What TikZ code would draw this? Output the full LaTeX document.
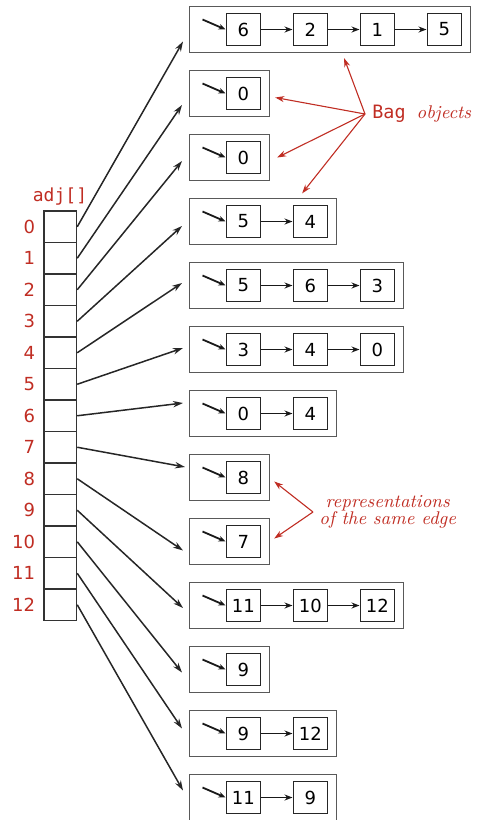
\documentclass[tikz,border=0pt]{standalone}
\usepackage{fontspec}
\setsansfont{DejaVu Sans}
\setmonofont{DejaVu Sans Mono}
\usetikzlibrary{arrows.meta}
\definecolor{bookred}{RGB}{192,45,35}

\begin{document}
\begin{tikzpicture}[x=0.5pt,y=-0.5pt,
  bag/.style={draw=black!65,line width=0.6pt,minimum height=23pt,inner sep=0pt,anchor=west},
  item/.style={draw=black!85,line width=0.6pt,minimum width=17.3pt,minimum height=16pt,inner sep=0pt,font=\sffamily\fontsize{9}{10}\selectfont},
  slot/.style={draw=black!80,line width=0.6pt,minimum width=16.3pt,minimum height=15.75pt,inner sep=0pt},
  idx/.style={text=bookred,inner sep=0pt,label distance=4pt,font=\sffamily\fontsize{9}{10}\selectfont},
  link/.style={-{Stealth[length=4pt,width=3pt]},line width=0.8pt,black!90},
  head/.style={-{Stealth[length=3.5pt,width=2.8pt]},line width=0.9pt,black!90},
  ref/.style={-{Stealth[length=5pt,width=3.2pt]},line width=0.75pt,black!85},
  note/.style={-{Stealth[length=4.5pt,width=3pt]},line width=0.55pt,bookred}]
\useasboundingbox (0,0) rectangle (477,820);
% draw adj array
\node[text=bookred,font=\ttfamily\fontsize{9}{10}\selectfont] (adj) at (60,197) {adj[]};
\node[slot,label={[idx]left:0}] (a0) at (60.35,226.75) {};
\node[slot,label={[idx]left:1}] (a1) at (60.35,258.25) {};
\node[slot,label={[idx]left:2}] (a2) at (60.35,289.75) {};
\node[slot,label={[idx]left:3}] (a3) at (60.35,321.25) {};
\node[slot,label={[idx]left:4}] (a4) at (60.35,352.75) {};
\node[slot,label={[idx]left:5}] (a5) at (60.35,384.25) {};
\node[slot,label={[idx]left:6}] (a6) at (60.35,415.75) {};
\node[slot,label={[idx]left:7}] (a7) at (60.35,447.25) {};
\node[slot,label={[idx]left:8}] (a8) at (60.35,478.75) {};
\node[slot,label={[idx]left:9}] (a9) at (60.35,510.25) {};
\node[slot,label={[idx]left:10}] (a10) at (60.35,541.75) {};
\node[slot,label={[idx]left:11}] (a11) at (60.35,573.25) {};
\node[slot,label={[idx]left:12}] (a12) at (60.35,604.75) {};
% draw bags
\node[bag,minimum width=140.5pt] (b0) at (189,29.5) {};
\node[item] (n0a) at (243.4,29.5) {6};
\node[item] (n0b) at (310.4,29.5) {2};
\node[item] (n0c) at (377.4,29.5) {1};
\node[item] (n0d) at (444.4,29.5) {5};
\draw[head] ([shift={(-23,-10)}]n0a.west) -- (n0a.west);
\draw[link] (n0a) -- (n0b);
\draw[link] (n0b) -- (n0c);
\draw[link] (n0c) -- (n0d);
%
\node[bag,minimum width=40pt] (b1) at (189,93.5) {};
\node[item] (n1a) at (243.4,93.5) {0};
\draw[head] ([shift={(-23,-10)}]n1a.west) -- (n1a.west);
%
\node[bag,minimum width=40pt] (b2) at (189,157.5) {};
\node[item] (n2a) at (243.4,157.5) {0};
\draw[head] ([shift={(-23,-10)}]n2a.west) -- (n2a.west);
%
\node[bag,minimum width=73.5pt] (b3) at (189,221.5) {};
\node[item] (n3a) at (243.4,221.5) {5};
\node[item] (n3b) at (310.4,221.5) {4};
\draw[head] ([shift={(-23,-10)}]n3a.west) -- (n3a.west);
\draw[link] (n3a) -- (n3b);
%
\node[bag,minimum width=107pt] (b4) at (189,285.5) {};
\node[item] (n4a) at (243.4,285.5) {5};
\node[item] (n4b) at (310.4,285.5) {6};
\node[item] (n4c) at (377.4,285.5) {3};
\draw[head] ([shift={(-23,-10)}]n4a.west) -- (n4a.west);
\draw[link] (n4a) -- (n4b);
\draw[link] (n4b) -- (n4c);
%
\node[bag,minimum width=107pt] (b5) at (189,349.5) {};
\node[item] (n5a) at (243.4,349.5) {3};
\node[item] (n5b) at (310.4,349.5) {4};
\node[item] (n5c) at (377.4,349.5) {0};
\draw[head] ([shift={(-23,-10)}]n5a.west) -- (n5a.west);
\draw[link] (n5a) -- (n5b);
\draw[link] (n5b) -- (n5c);
%
\node[bag,minimum width=73.5pt] (b6) at (189,413.5) {};
\node[item] (n6a) at (243.4,413.5) {0};
\node[item] (n6b) at (310.4,413.5) {4};
\draw[head] ([shift={(-23,-10)}]n6a.west) -- (n6a.west);
\draw[link] (n6a) -- (n6b);
%
\node[bag,minimum width=40pt] (b7) at (189,477.5) {};
\node[item] (n7a) at (243.4,477.5) {8};
\draw[head] ([shift={(-23,-10)}]n7a.west) -- (n7a.west);
%
\node[bag,minimum width=40pt] (b8) at (189,541.5) {};
\node[item] (n8a) at (243.4,541.5) {7};
\draw[head] ([shift={(-23,-10)}]n8a.west) -- (n8a.west);
%
\node[bag,minimum width=107pt] (b9) at (189,605.5) {};
\node[item] (n9a) at (243.4,605.5) {11};
\node[item] (n9b) at (310.4,605.5) {10};
\node[item] (n9c) at (377.4,605.5) {12};
\draw[head] ([shift={(-23,-10)}]n9a.west) -- (n9a.west);
\draw[link] (n9a) -- (n9b);
\draw[link] (n9b) -- (n9c);
%
\node[bag,minimum width=40pt] (b10) at (189,669.5) {};
\node[item] (n10a) at (243.4,669.5) {9};
\draw[head] ([shift={(-23,-10)}]n10a.west) -- (n10a.west);
%
\node[bag,minimum width=73.5pt] (b11) at (189,733.5) {};
\node[item] (n11a) at (243.4,733.5) {9};
\node[item] (n11b) at (310.4,733.5) {12};
\draw[head] ([shift={(-23,-10)}]n11a.west) -- (n11a.west);
\draw[link] (n11a) -- (n11b);
%
\node[bag,minimum width=73.5pt] (b12) at (189,797.5) {};
\node[item] (n12a) at (243.4,797.5) {11};
\node[item] (n12b) at (310.4,797.5) {9};
\draw[head] ([shift={(-23,-10)}]n12a.west) -- (n12a.west);
\draw[link] (n12a) -- (n12b);
% draw references from adj[] to bags
\draw[ref] (a0.east) -- ([shift={(-6,12)}]b0.west);
\draw[ref] (a1.east) -- ([shift={(-7,11.5)}]b1.west);
\draw[ref] (a2.east) -- ([shift={(-7,3.5)}]b2.west);
\draw[ref] (a3.east) -- ([shift={(-7,4.5)}]b3.west);
\draw[ref] (a4.east) -- ([shift={(-7,-2.5)}]b4.west);
\draw[ref] (a5.east) -- ([shift={(-6,-1.5)}]b5.west);
\draw[ref] (a6.east) -- ([shift={(-6,-10.5)}]b6.west);
\draw[ref] (a7.east) -- ([shift={(-4,-10.5)}]b7.west);
\draw[ref] (a8.east) -- ([shift={(-6,9)}]b8.west);
\draw[ref] (a9.east) -- ([shift={(-6,2.5)}]b9.west);
\draw[ref] (a10.east) -- ([shift={(-7,3)}]b10.west);
\draw[ref] (a11.east) -- ([shift={(-7,-5)}]b11.west);
\draw[ref] (a12.east) -- ([shift={(-6,-7)}]b12.west);
% draw red notes
\node[anchor=west,inner sep=3.5pt,text=bookred,font=\fontsize{9.2}{10}\selectfont] (bagtxt) at (365,114)
  {\texttt{Bag}\hspace{5.5pt}\textit{objects}};
\draw[note] (bagtxt.west) -- ([shift={(14,5)}]b0.south);
\draw[note] (bagtxt.west) -- ([shift={(5,4)}]b1.east);
\draw[note] (bagtxt.west) -- ([shift={(7,0)}]b2.east);
\draw[note] (bagtxt.west) -- ([shift={(39,-4.5)}]b3.north);
\node[anchor=west,inner sep=3pt,align=center,text=bookred,font=\itshape\fontsize{9.2}{8.8}\selectfont] (sametxt) at (313,512)
  {representations\\of the same edge};
\draw[note] (sametxt.west) -- ([shift={(4,4)}]b7.east);
\draw[note] (sametxt.west) -- ([shift={(4,-3)}]b8.east);
\end{tikzpicture}
\end{document}
